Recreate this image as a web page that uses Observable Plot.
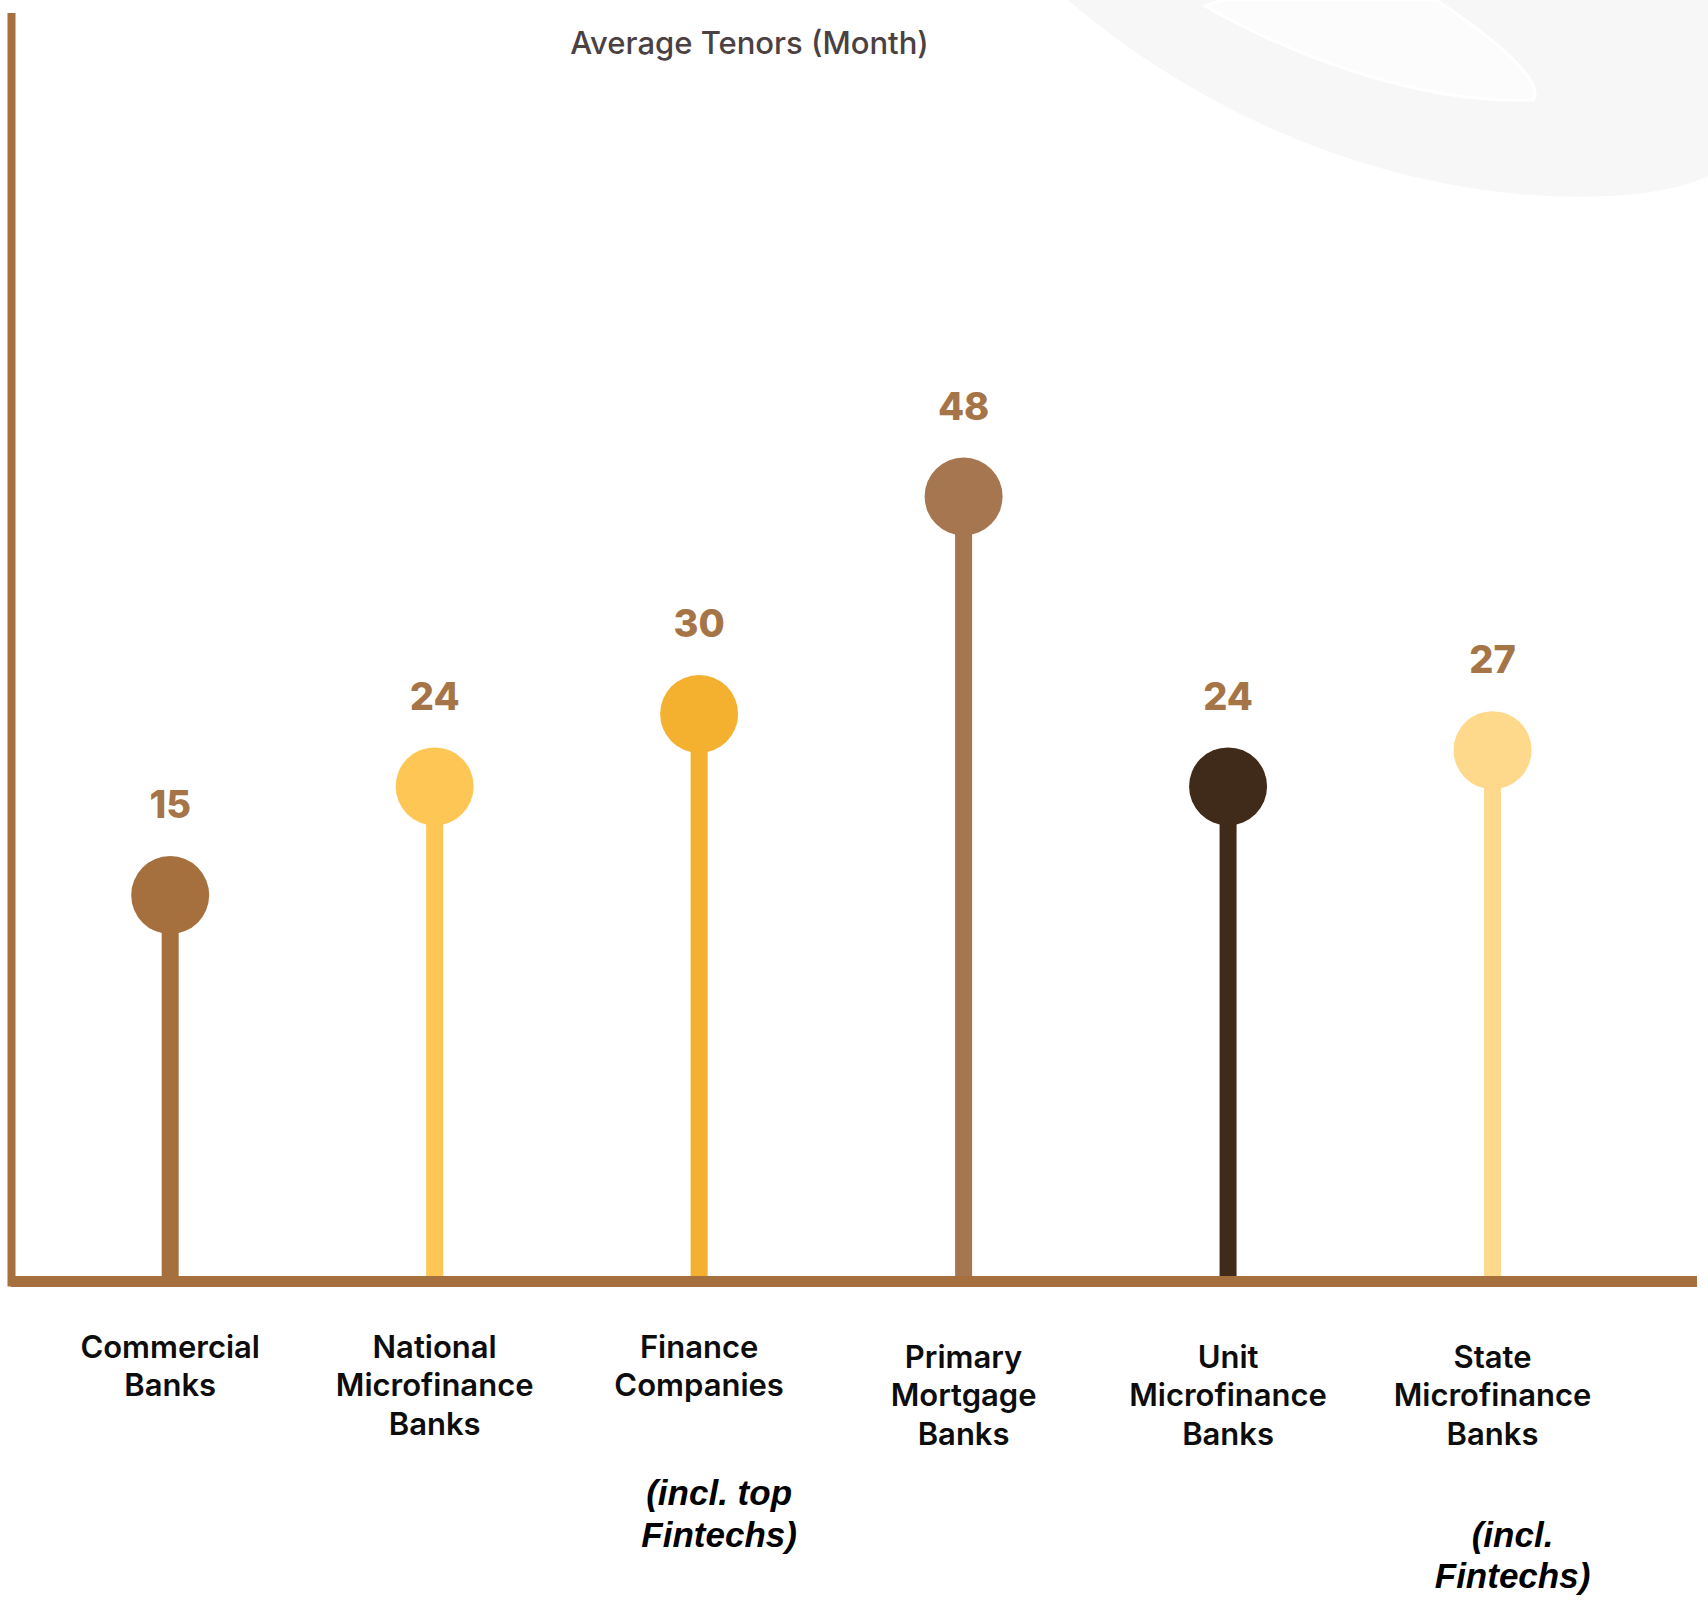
<!DOCTYPE html>
<html>
<head>
<meta charset="utf-8">
<title>Average Tenors (Month)</title>
<script src="https://cdn.jsdelivr.net/npm/d3@7"></script>
<script src="https://cdn.jsdelivr.net/npm/@observablehq/plot@0.6"></script>
<style>
  html, body { margin: 0; padding: 0; background: #ffffff; }
  #chart { position: relative; width: 1708px; height: 1602px; overflow: hidden; }
  #swoosh { position: absolute; left: 0; top: 0; }
  #chart svg.plot, #chart > svg:last-child { position: relative; display: block; }
</style>
</head>
<body>
<div id="chart">
  <!-- faint decorative swoosh in the top-right corner -->
  <svg id="swoosh" width="1708" height="260" viewBox="0 0 1708 260">
    <path d="M1068,0 C1220,130 1420,205 1610,196 C1660,193 1690,185 1708,176 L1708,0 Z" fill="#f7f7f7"/>
    <path d="M1205,6 C1300,60 1425,104 1533,100 C1546,84 1500,42 1436,0 L1225,0 C1215,2 1210,4 1205,6 Z"
          fill="#fcfcfc" stroke="#ffffff" stroke-width="3"/>
  </svg>
</div>
<script>
// Average loan tenor, in months, by type of lender
const categories = [
  "Commercial Banks",
  "National Microfinance Banks",
  "Finance Companies",
  "Primary Mortgage Banks",
  "Unit Microfinance Banks",
  "State Microfinance Banks"
];
const tenors = [15, 24, 30, 48, 24, 27];
const notes = ["", "", "(incl. top\nFintechs)", "", "", "(incl.\nFintechs)"];
const title = "Average Tenors (Month)";

// palette, one colour per lender type
const palette = ["#a66f3e", "#fec755", "#f4b02f", "#a5764f", "#402a1a", "#fed98c"];
const axisColor = "#a66f3e";

const rows = categories.map((name, i) => ({i, name, value: tenors[i], note: notes[i]}));

const yMin = -17, yMax = 88;     // value axis extent (no ticks drawn)
const xMin = -0.6, xMax = 5.775; // category index extent

const labelFont = "Inter, 'Noto Sans', sans-serif";
const wrap = d => d.name.split(" ").join("\n");

const chart = Plot.plot({
  width: 1708,
  height: 1602,
  marginLeft: 11,
  marginRight: 11,
  marginTop: 13,
  marginBottom: 321,
  style: {background: "transparent", overflow: "visible"},
  x: {domain: [xMin, xMax], axis: null},
  y: {domain: [yMin, yMax], axis: null},
  color: {type: "ordinal", domain: categories, range: palette},
  marks: [
    // lollipop stems
    Plot.ruleX(rows, {x: "i", y1: yMin, y2: "value", stroke: "name", strokeWidth: 17}),
    // lollipop heads
    Plot.dot(rows, {x: "i", y: "value", r: 39, fill: "name"}),
    // value labels
    Plot.text(rows, {
      x: "i", y: "value", text: d => String(d.value), dy: -89,
      fontSize: 38, fontWeight: 800, fill: "#a57548", fontFamily: labelFont
    }),
    // axes
    Plot.ruleY([yMin], {stroke: axisColor, strokeWidth: 11}),
    Plot.ruleX([xMin], {stroke: axisColor, strokeWidth: 8, insetBottom: -5.5}),
    // category labels
    Plot.text(rows.slice(0, 3), {
      x: "i", y: yMin, text: wrap, lineAnchor: "top", lineHeight: 1.25, dy: 48.5,
      fontSize: 31, fontWeight: 600, fill: "#0d0d0d", fontFamily: labelFont
    }),
    Plot.text(rows.slice(3), {
      x: "i", y: yMin, text: wrap, lineAnchor: "top", lineHeight: 1.25, dy: 58.5,
      fontSize: 31, fontWeight: 600, fill: "#0d0d0d", fontFamily: labelFont
    }),
    // footnotes under the lenders that include fintechs
    Plot.text(rows.filter(d => d.note), {
      x: "i", y: yMin,
      text: d => "\n".repeat(d.name.split(" ").length) + d.note,
      lineAnchor: "top", lineHeight: 1.18, dy: 112, dx: 20,
      fontSize: 35, fontWeight: 700, fontStyle: "italic", fill: "#000000",
      fontFamily: "'Liberation Sans', Arial, sans-serif"
    }),
    // chart title
    Plot.text([title], {
      frameAnchor: "top", lineAnchor: "top", dy: 18, dx: -105,
      fontSize: 31, fontWeight: 500, fill: "#4b4142", fontFamily: labelFont
    })
  ]
});

document.getElementById("chart").appendChild(chart);
</script>
</body>
</html>
